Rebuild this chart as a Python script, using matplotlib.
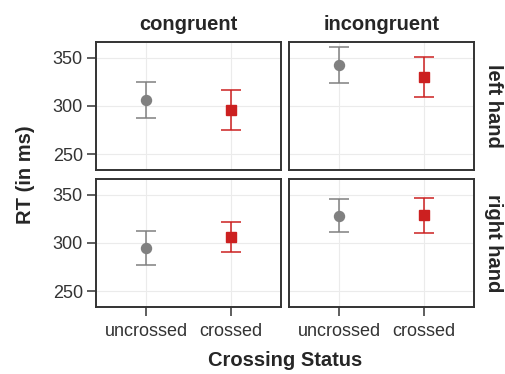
import matplotlib
matplotlib.use("Agg")
import matplotlib.pyplot as plt

plt.rcParams['font.family'] = ['Liberation Sans', 'DejaVu Sans']

# Facet layout: columns = congruency, rows = responding hand
congruency = ["congruent", "incongruent"]
hands = ["left hand", "right hand"]
crossing = ["uncrossed", "crossed"]

# Mean RT (ms) per [hand][congruency] for uncrossed / crossed
rt_mean = {
    ("left hand", "congruent"): [306, 296],
    ("left hand", "incongruent"): [342, 330],
    ("right hand", "congruent"): [295, 306],
    ("right hand", "incongruent"): [328, 329],
}
rt_low = {
    ("left hand", "congruent"): [287.5, 275],
    ("left hand", "incongruent"): [323.5, 309.5],
    ("right hand", "congruent"): [277.5, 291],
    ("right hand", "incongruent"): [311, 310],
}
rt_high = {
    ("left hand", "congruent"): [325, 317],
    ("left hand", "incongruent"): [360.5, 351],
    ("right hand", "congruent"): [312.5, 321.5],
    ("right hand", "incongruent"): [345, 346.5],
}
y_ticks = [250, 300, 350]

colors = ["#808080", "#CC2020"]
markers = ["o", "s"]
text_col = "#333333"
title_col = "#262626"

W, H = 506, 374
fig = plt.figure(figsize=(W / 100, H / 100), dpi=100)

col_x = [96, 289]
col_w = 185
row_y = [42, 179]
row_h = 128

for r, hand in enumerate(hands):
    for c, cong in enumerate(congruency):
        ax = fig.add_axes([col_x[c] / W, 1 - (row_y[r] + row_h) / H,
                           col_w / W, row_h / H])
        key = (hand, cong)
        for i, lab in enumerate(crossing):
            m = rt_mean[key][i]
            lo = m - rt_low[key][i]
            hi = rt_high[key][i] - m
            ax.errorbar([i + 1], [m], yerr=[[lo], [hi]], fmt=markers[i],
                        color=colors[i], ms=7.2, capsize=7.2, capthick=1.1,
                        elinewidth=1.1, zorder=3)
        ax.set_xlim(0.4, 2.6)
        ax.set_ylim(234, 366)
        ax.set_xticks([1, 2])
        ax.set_yticks(y_ticks)
        ax.grid(True, color="#EBEBEB", lw=0.8, zorder=0)
        ax.set_axisbelow(True)
        for s in ax.spines.values():
            s.set_color("#333333")
            s.set_linewidth(1.4)
        ax.tick_params(direction="out", length=6.5, width=1.1, color="#333333",
                       labelsize=13, labelcolor=text_col, pad=3)
        ax.tick_params(axis="x", pad=5)
        if r == 1:
            ax.set_xticklabels(crossing)
        else:
            ax.tick_params(axis="x", length=0, labelbottom=False)
        if c == 0:
            ax.set_yticklabels([str(v) for v in y_ticks])
        else:
            ax.tick_params(axis="y", length=0, labelleft=False)
        if r == 0:
            ax.set_title(cong, fontsize=14.5, fontweight="bold",
                         color=title_col, pad=9)
        if c == 1:
            ax.text(1.108, 0.5, hand, transform=ax.transAxes, rotation=-90,
                    ha="center", va="center", fontsize=14.5,
                    fontweight="bold", color=title_col)

fig.text(26 / W, 1 - 174.5 / H, "RT (in ms)", rotation=90, ha="center",
         va="center", fontsize=14.5, fontweight="bold", color=title_col)
fig.text(285 / W, 1 - 361 / H, "Crossing Status", ha="center", va="center",
         fontsize=14.5, fontweight="bold", color=title_col)

fig.savefig("out.png", dpi=100)
